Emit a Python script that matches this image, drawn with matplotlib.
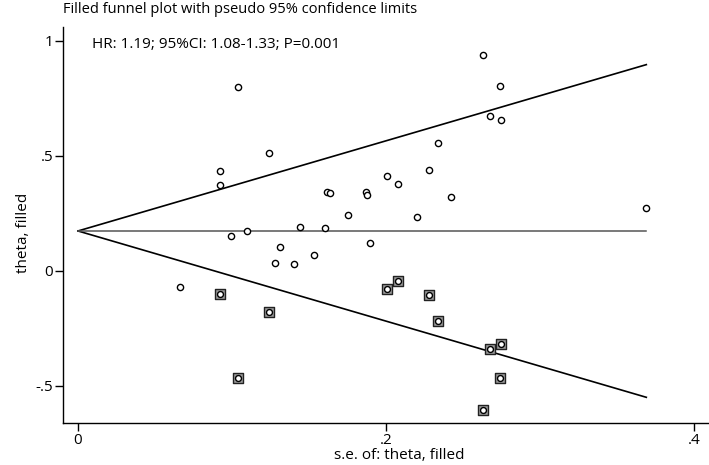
import matplotlib
matplotlib.use("Agg")
import matplotlib.pyplot as plt
import numpy as np

plt.rcParams['font.family'] = ['Open Sans', 'DejaVu Sans']

# Observed studies (standard error, log HR)
obs_se = [0.1041, 0.1238, 0.0922, 0.0922, 0.2004, 0.1615, 0.1636, 0.1868, 0.1874,
          0.1755, 0.0991, 0.1097, 0.1440, 0.1604, 0.1896, 0.1314, 0.1281, 0.1400,
          0.1532, 0.0662, 0.2630, 0.2738, 0.2675, 0.2749, 0.2338, 0.2279, 0.2078,
          0.2420, 0.2199, 0.3688]
obs_theta = [0.801, 0.514, 0.436, 0.373, 0.414, 0.345, 0.338, 0.345, 0.330,
             0.242, 0.152, 0.175, 0.193, 0.187, 0.123, 0.106, 0.036, 0.032,
             0.070, -0.068, 0.939, 0.804, 0.675, 0.655, 0.555, 0.439, 0.380,
             0.323, 0.235, 0.275]

# Filled (imputed) studies
fill_se = [0.0924, 0.1240, 0.2004, 0.1041, 0.2078, 0.2279, 0.2338, 0.2675,
           0.2749, 0.2738, 0.2630]
fill_theta = [-0.099, -0.178, -0.077, -0.464, -0.045, -0.103, -0.219, -0.338,
              -0.319, -0.467, -0.603]

pooled = 0.174
se_max = 0.369

x_ticks = [0, 0.2, 0.4]
x_tick_labels = ['0', '.2', '.4']
y_ticks = [-0.5, 0, 0.5, 1]
y_tick_labels = ['-.5', '0', '.5', '1']

fig = plt.figure(figsize=(7.09, 4.65), dpi=100)
ax = fig.add_axes([0.0889, 0.0903, 0.9111, 0.8517])

se_line = np.array([0, se_max])
ax.plot(se_line, pooled + 1.96 * se_line, color='black', lw=1.2, zorder=2)
ax.plot(se_line, pooled - 1.96 * se_line, color='black', lw=1.2, zorder=2)
ax.plot(se_line, [pooled, pooled], color='#555555', lw=1.1, zorder=2)

ax.scatter(fill_se, fill_theta, marker='s', s=50, facecolor='#9a9a9a',
           edgecolor='#222222', linewidths=1.0, zorder=3)
ax.scatter(fill_se, fill_theta, marker='o', s=18, facecolor='white',
           edgecolor='black', linewidths=1.0, zorder=4)
ax.scatter(obs_se, obs_theta, marker='o', s=20, facecolor='white',
           edgecolor='black', linewidths=1.0, zorder=4)

ax.set_xlim(-0.0097, 0.4097)
ax.set_ylim(-0.661, 1.061)
ax.set_xticks(x_ticks)
ax.set_xticklabels(x_tick_labels)
ax.set_yticks(y_ticks)
ax.set_yticklabels(y_tick_labels)
ax.tick_params(direction='out', length=6, width=1, labelsize=11, pad=1)
for s in ['top', 'right']:
    ax.spines[s].set_visible(False)
for s in ['left', 'bottom']:
    ax.spines[s].set_linewidth(1.0)

ax.set_xlabel('s.e. of: theta, filled', fontsize=11, va='top')
ax.xaxis.set_label_coords(0.52, -0.062)
ax.set_ylabel('theta, filled', fontsize=11)
ax.yaxis.set_label_coords(-0.05, 0.48)

ax.text(0.045, 0.955, 'HR: 1.19; 95%CI: 1.08-1.33; P=0.001', transform=ax.transAxes,
        fontsize=11, va='center', ha='left')
fig.text(0.0889, 0.995, 'Filled funnel plot with pseudo 95% confidence limits',
         fontsize=10.5, va='top', ha='left')

fig.savefig('out.png', dpi=100)
